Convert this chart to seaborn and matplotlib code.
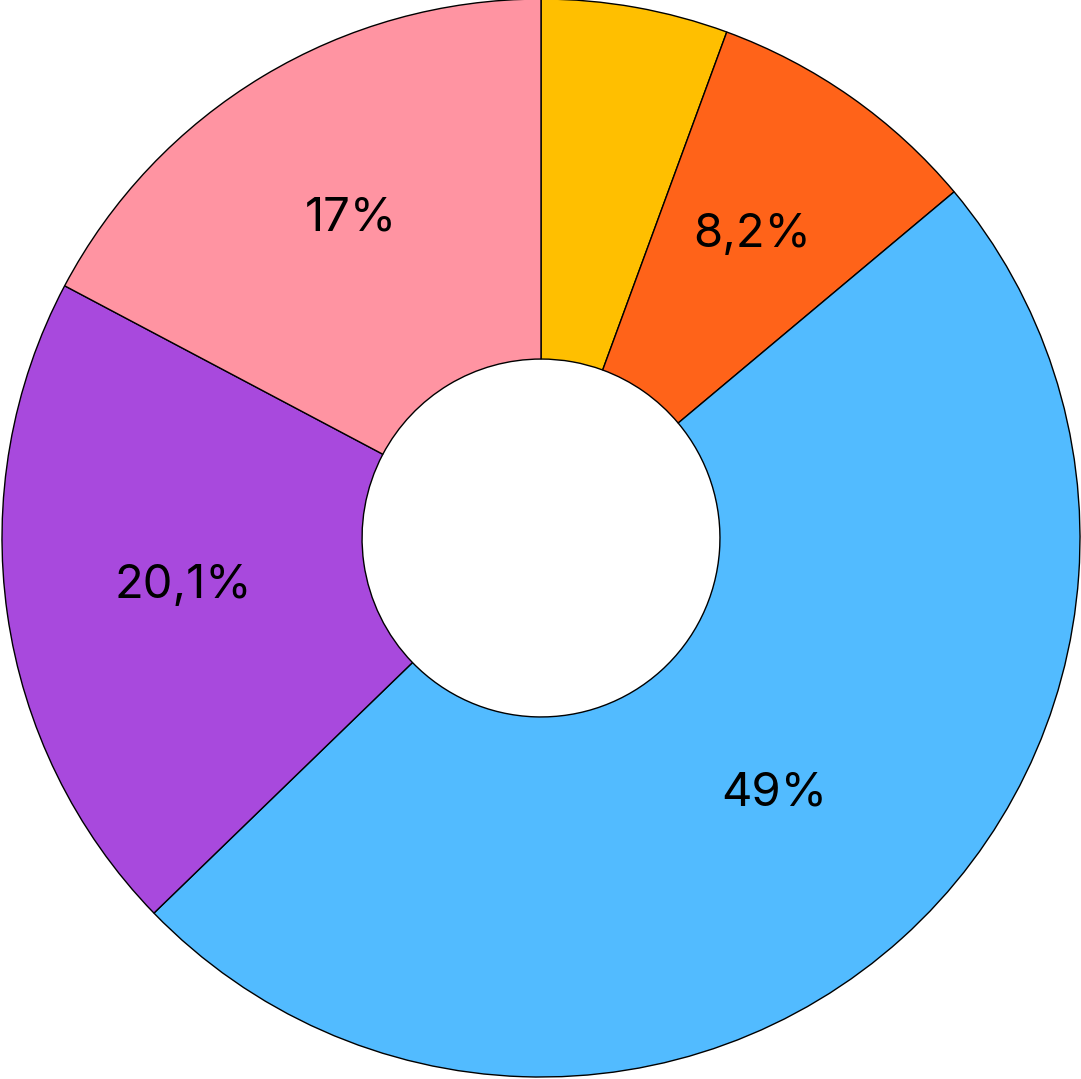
import seaborn as sns
import matplotlib.pyplot as plt
import numpy as np

# slice data (clockwise from 12 o'clock), sizes
categories = ['A', 'B', 'C', 'D', 'E']
values = [5.6, 8.3, 48.85, 20.0, 17.25]
labels = ['', '8,2%', '49%', '20,1%', '17%']
colors = ['#FFBF00', '#FF6319', '#52BBFF', '#A849DD', '#FF94A2']

sns.set_theme(style='white')
plt.rcParams['font.family'] = ['Inter', 'DejaVu Sans']

my_dpi = 100
fig = plt.figure(figsize=(1081 / my_dpi, 1079 / my_dpi), dpi=my_dpi)
ax = fig.add_axes([0, 0, 1, 1])

wedges, _ = ax.pie(values, colors=colors, startangle=90, counterclock=False,
                   radius=1.0,
                   wedgeprops=dict(width=0.668, edgecolor='black', linewidth=1.0))

# labels in the ring, radial distance tuned per slice
label_r = [0.67, 0.68, 0.645, 0.67, 0.685]
for w, lab, r in zip(wedges, labels, label_r):
    if not lab:
        continue
    ang = np.deg2rad((w.theta1 + w.theta2) / 2)
    ax.text(r * np.cos(ang), r * np.sin(ang) + 0.006, lab, ha='center', va='center',
            fontsize=34, color='black')

ax.set_xlim(-541 / 539, 540 / 539)
ax.set_ylim(-541 / 539, 538 / 539)
ax.axis('off')

plt.savefig('out.png', dpi=my_dpi)
